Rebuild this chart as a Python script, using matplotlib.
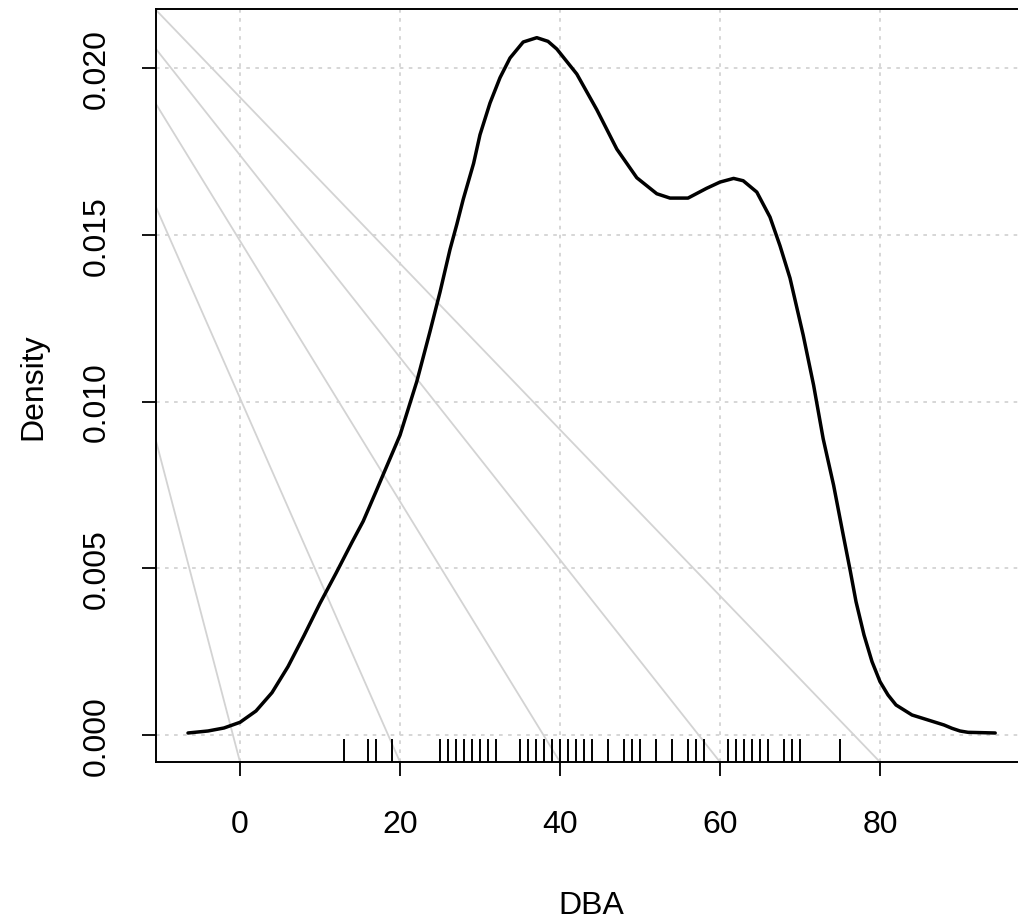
import matplotlib
matplotlib.use("Agg")
import matplotlib.pyplot as plt

plt.rcParams['font.family'] = ['Liberation Sans', 'DejaVu Sans']

# density curve
dens_x = [-6.5, -4, -2, 0, 2, 4, 6, 8, 10, 12, 14, 15.4, 17, 17.9, 20, 22.1,
          23.75, 25, 26.25, 27.1, 27.9, 29.2, 30, 31.25, 32.5, 33.75, 35.4,
          37.1, 38.5, 39.6, 42.1, 44.6, 47.1, 49.6, 52.1, 53.75, 56, 58.3, 60,
          61.7, 62.9, 64.6, 66.25, 67.5, 68.75, 70.4, 71.7, 72.9, 74.2, 75.4,
          76.3, 77, 78, 79, 80, 81, 82, 84, 86, 88, 89, 90, 91, 94.4]
dens_y = [0.00006, 0.00012, 0.00021, 0.00038, 0.00072, 0.00127, 0.00205,
          0.00298, 0.00395, 0.00485, 0.00578, 0.00641, 0.00730, 0.00781,
          0.00899, 0.01060, 0.01210, 0.01328, 0.01456, 0.01531, 0.01606,
          0.01714, 0.01800, 0.01895, 0.01971, 0.02030, 0.02078, 0.02091,
          0.02080, 0.02057, 0.01982, 0.01875, 0.01757, 0.01671, 0.01623,
          0.01610, 0.01610, 0.01639, 0.01658, 0.01669, 0.01662, 0.01628,
          0.01553, 0.01467, 0.01370, 0.01199, 0.01049, 0.00888, 0.00749,
          0.00600, 0.00490, 0.00400, 0.00300, 0.00220, 0.00160, 0.00120,
          0.00090, 0.00060, 0.00045, 0.00030, 0.00020, 0.00012, 0.00008,
          0.00006]

# observations shown in the rug
rug_x = [13, 16, 17, 19, 25, 26, 27, 28, 29, 30, 31, 32, 35, 36, 37, 38, 39,
         40, 41, 42, 43, 44, 46, 48, 49, 50, 52, 54, 56, 57, 58, 61, 62, 63,
         64, 65, 66, 68, 69, 70, 75]

# grey guide lines: start height on the left edge, end on the bottom edge
guide_start_y = [0.00882, 0.01583, 0.01892, 0.02057, 0.02174]
guide_end_x = [0, 20, 40, 60, 80]

x_ticks = [0, 20, 40, 60, 80]
y_ticks = [0.000, 0.005, 0.010, 0.015, 0.020]
y_tick_labels = ['0.000', '0.005', '0.010', '0.015', '0.020']

xlim = (-10.5, 98.25)
ylim = (-0.00081, 0.02177)

fig = plt.figure(figsize=(10.18, 9.2), dpi=100)
ax = fig.add_axes([156 / 1018, 157 / 920, 870 / 1018, 753 / 920])
ax.set_xlim(*xlim)
ax.set_ylim(*ylim)

grid_kw = dict(color='#d3d3d3', lw=1.3, ls=(0, (2, 3)), zorder=1)
for gx in x_ticks:
    ax.axvline(gx, **grid_kw)
for gy in y_ticks:
    ax.axhline(gy, **grid_kw)

for sy, ex in zip(guide_start_y, guide_end_x):
    ax.plot([xlim[0], ex], [sy, ylim[0]], color='#d3d3d3', lw=1.3, zorder=2)

ax.plot(dens_x, dens_y, color='black', lw=2.5, zorder=4,
        solid_joinstyle='round', solid_capstyle='round')

# rug: 3% of the plot height
ax.vlines(rug_x, 0, 0.03, transform=ax.get_xaxis_transform(),
          color='black', lw=1.4, zorder=3)

ax.set_xticks(x_ticks)
ax.set_yticks(y_ticks)
ax.set_yticklabels(y_tick_labels, rotation=90, va='center')
ax.tick_params(direction='out', length=10, width=1.3, labelsize=23,
               color='black')
ax.tick_params(axis='x', pad=24)
ax.tick_params(axis='y', pad=22)
for sp in ax.spines.values():
    sp.set_linewidth(1.4)
# the box runs past the right edge of the picture
ax.spines['right'].set_visible(False)

ax.set_xlabel('DBA', fontsize=23)
ax.xaxis.set_label_coords(0.5, -0.19)
ax.xaxis.label.set_va('center')
ax.set_ylabel('Density', fontsize=23)
ax.yaxis.set_label_coords(-0.141, 0.5)
ax.yaxis.label.set_va('center')

plt.savefig('out.png', dpi=100)
